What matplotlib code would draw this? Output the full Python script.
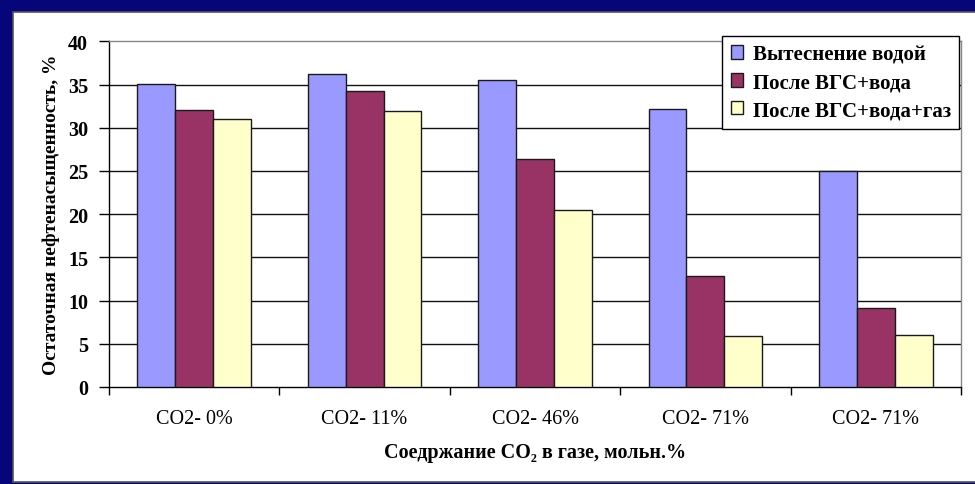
import matplotlib
matplotlib.use("Agg")
import matplotlib.pyplot as plt
from matplotlib.patches import Rectangle
import numpy as np

categories = ["CO2- 0%", "CO2- 11%", "CO2- 46%", "CO2- 71%", "CO2- 71%"]
series_names = ["Вытеснение водой", "После ВГС+вода", "После ВГС+вода+газ"]
water = [35.1, 36.2, 35.5, 32.2, 25.0]
wag_water = [32.1, 34.3, 26.4, 12.9, 9.2]
wag_water_gas = [31.0, 32.0, 20.5, 5.9, 6.0]
yticks = [0, 5, 10, 15, 20, 25, 30, 35, 40]

colors = ["#9999FF", "#993366", "#FFFFCC"]
serif = ["Liberation Serif", "DejaVu Serif"]
plt.rcParams["font.family"] = serif

fig = plt.figure(figsize=(9.75, 4.85), dpi=100)
fig.patch.set_facecolor("#06067a")
panel = Rectangle((13 / 975, 2 / 485), 1.0, 470 / 485, transform=fig.transFigure,
                  facecolor="white", edgecolor="#555555", linewidth=1.2, zorder=-10)
fig.patches.append(panel)

ax = fig.add_axes([109 / 975, 97 / 485, 852 / 975, 345.6 / 485])
ax.set_zorder(1)
ax.patch.set_alpha(0)

x = np.arange(len(categories))
w = 0.222
all_series = [water, wag_water, wag_water_gas]
for i, (vals, name, c) in enumerate(zip(all_series, series_names, colors)):
    ax.bar(x + (i - 1) * w, vals, width=w, color=c, edgecolor="#1a1a1a",
           linewidth=1.0, label=name, zorder=3)

ax.set_xlim(-0.5, len(categories) - 0.5)
ax.set_ylim(0, 40)
ax.set_yticks(yticks)
ax.set_yticklabels([str(v) for v in yticks], fontsize=14.5, fontweight="bold")
for v in yticks[1:-1]:
    ax.axhline(v, color="#111111", linewidth=1.0, zorder=1)

ax.set_xticks(x)
ax.set_xticklabels(categories, fontsize=14.5)
ax.tick_params(axis="x", which="major", length=0, pad=16)
ax.set_xticks(np.arange(-0.5, len(categories), 1.0), minor=True)
ax.tick_params(axis="x", which="minor", length=6, width=1, color="black", direction="out")
ax.tick_params(axis="y", length=7, width=1, color="black", direction="out", pad=8)

for s in ["left", "bottom"]:
    ax.spines[s].set_color("black")
    ax.spines[s].set_linewidth(1.0)
for s in ["top", "right"]:
    ax.spines[s].set_color("#888888")
    ax.spines[s].set_linewidth(1.0)

ax.set_ylabel("Остаточная нефтенасыщенность, %", fontsize=14, fontweight="bold", labelpad=6)
ax.set_xlabel("Соедржание CO₂ в газе, мольн.%", fontsize=14.5, fontweight="bold", labelpad=10)

leg = ax.legend(loc="upper right", bbox_to_anchor=(959 / 975, 1 - 37 / 485),
                bbox_transform=fig.transFigure, borderaxespad=0, fancybox=False,
                framealpha=1, edgecolor="black", prop={"family": serif, "weight": "bold", "size": 15},
                handlelength=0.6, handleheight=0.6, handletextpad=0.45,
                labelspacing=0.38, borderpad=0.4)
leg.get_frame().set_linewidth(1.0)
leg.set_zorder(5)

fig.savefig("out.png", dpi=100, facecolor=fig.get_facecolor())
